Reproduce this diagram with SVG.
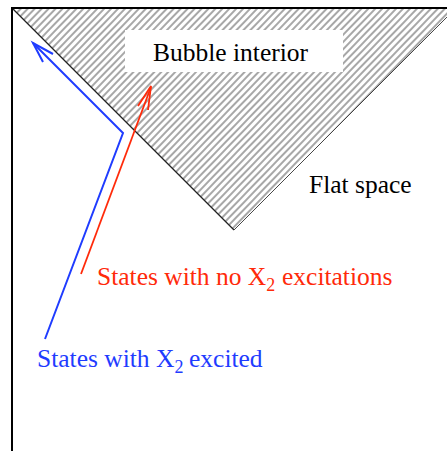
<svg xmlns="http://www.w3.org/2000/svg" width="447" height="451" viewBox="0 0 447 451">
<style>
text{font-family:"Liberation Serif","Times New Roman",serif;font-size:25.5px}
.sub{font-size:18px}
.blue{fill:#1f3cff}
.red{fill:#ff2a0a}
</style>
<defs>
<pattern id="hatch" width="5" height="10" patternUnits="userSpaceOnUse" patternTransform="rotate(44)">
<line x1="1" y1="0" x2="1" y2="10" stroke="#222" stroke-width="0.8"/>
</pattern>
</defs>
<rect width="447" height="451" fill="#fff"/>
<g id="bubble">
<polygon points="12,8 456,8 234,230" fill="url(#hatch)"/>
<line x1="12" y1="8" x2="234" y2="230" stroke="#222" stroke-width="1.3"/>
<line x1="234" y1="230" x2="456" y2="8" stroke="#333" stroke-width="0.9"/>
<rect x="125" y="30" width="218" height="42" fill="#fff"/>
<text x="153" y="61">Bubble interior</text>
</g>
<g id="frame">
<line x1="12" y1="8" x2="447" y2="8" stroke="#000" stroke-width="2"/>
<line x1="12" y1="7" x2="12" y2="451" stroke="#000" stroke-width="2"/>
</g>
<g id="flat">
<text x="309" y="193">Flat space</text>
</g>
<g id="connectors" fill="none" stroke-width="2" stroke-linejoin="miter">
<polyline points="45,339 123,133 33,43" stroke="#1f3cff"/>
<polyline points="43,62 33,43 53,54" stroke="#1f3cff"/>
<line x1="81" y1="274" x2="151" y2="87" stroke="#ff2a0a" stroke-width="1.8"/>
<polyline points="138,106 151,86 148,110" stroke="#ff2a0a" stroke-width="1.8"/>
</g>
<g id="label-red">
<text class="red" x="97" y="285">States with no X<tspan class="sub" dy="6">2</tspan><tspan x="282" dy="-6">excitations</tspan></text>
</g>
<g id="label-blue">
<text class="blue" x="37" y="367">States with X<tspan class="sub" dy="6">2</tspan><tspan x="189" dy="-6">excited</tspan></text>
</g>
</svg>
